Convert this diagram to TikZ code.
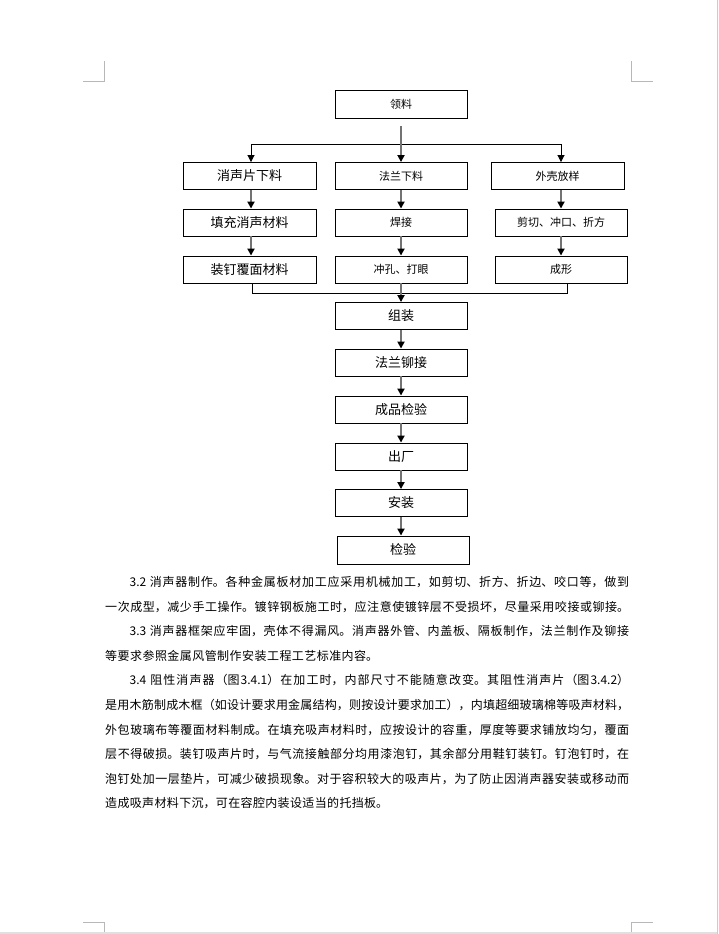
\documentclass[tikz,border=0pt]{standalone}
\usepackage{fontspec}
\setmainfont{Noto Sans CJK SC}
\usetikzlibrary{arrows.meta}
\XeTeXlinebreaklocale "zh"
\XeTeXlinebreakskip=0pt plus 1pt
\newcommand{\jline}[1]{\parbox[b]{524pt}{\parindent=0pt\parfillskip=0pt\relax #1}}
\newcommand{\sline}[2]{\parbox[b]{#1}{\parindent=0pt\parfillskip=0pt\relax #2}}
\newcommand{\ind}{\hspace*{24.4pt}}
\tikzset{
  box/.style={draw=black, line width=0.9pt, minimum width=132pt, minimum height=27pt, inner sep=0pt, fill=white},
  big/.style={font=\fontsize{13pt}{15pt}\selectfont},
  small/.style={font=\fontsize{11pt}{13pt}\selectfont},
  garr/.style={draw=black!55, line width=2pt, -{Triangle[length=7pt,width=7pt,color=black]}},
  thinln/.style={draw=black, line width=0.9pt},
  tarr/.style={thinln, -{Triangle[length=7pt,width=7pt]}},
  cropmk/.style={draw=black!28, line width=0.8pt},
  para/.style={anchor=base west, inner sep=0pt, font=\fontsize{12pt}{14pt}\selectfont},
}
\begin{document}
\begin{tikzpicture}[x=1pt,y=-1pt]
\useasboundingbox (0,0) rectangle (718,934);
\fill[white] (0,0) rectangle (718,934);
% page edge
\fill[black!12] (0,932) rectangle (718,934);
\draw[black!20, line width=1pt] (717.5,0) -- (717.5,934);
% crop marks
\draw[cropmk] (83,81) -- (104,81) -- (104,61);
\draw[cropmk] (631,61) -- (631,81) -- (653,81);
\draw[cropmk] (83,922) -- (104,922) -- (104,932);
\draw[cropmk] (631,932) -- (631,922) -- (653,922);

% boxes
\node[box, small, minimum height=28pt] (ling) at (401,104) {领料};
\node[box, big, minimum width=133pt] (a1) at (249.5,176) {消声片下料};
\node[box, small] (b1) at (401,176) {法兰下料};
\node[box, small, minimum width=133pt] (c1) at (557.5,176) {外壳放样};
\node[box, big, minimum width=133pt] (a2) at (249.5,222.5) {填充消声材料};
\node[box, small] (b2) at (401,222.5) {焊接};
\node[box, small] (c2) at (561,222.5) {剪切、冲口、折方};
\node[box, big, minimum width=133pt] (a3) at (249.5,269.5) {装钉覆面材料};
\node[box, small] (b3) at (401,269.5) {冲孔、打眼};
\node[box, small] (c3) at (561,269.5) {成形};
\node[box, big] (d1) at (401,316) {组装};
\node[box, big] (d2) at (401,362.5) {法兰铆接};
\node[box, big] (d3) at (401,409.5) {成品检验};
\node[box, big] (d4) at (401,456.5) {出厂};
\node[box, big] (d5) at (401,503) {安装};
\node[box, big, minimum height=28pt] (d6) at (403,550) {检验};

% split
\coordinate (hl) at (251,144);
\coordinate (hr) at (561,144);
\draw[thinln] (hl) -- (hr);
\draw[tarr] (hl) -- (hl |- a1.north);
\draw[tarr] (hr) -- (hr |- c1.north);
\draw[garr] ([yshift=-8pt]ling.south) -- (b1.north);

% columns
\draw[garr] (hl |- a1.south) -- (hl |- a2.north);
\draw[garr] (hl |- a2.south) -- (hl |- a3.north);
\draw[garr] (b1.south) -- (b2.north);
\draw[garr] (b2.south) -- (b3.north);
\draw[garr] (c2.north |- c1.south) -- (c2.north);
\draw[garr] (c2.south) -- (c3.north);

% merge
\coordinate (ml) at (252,293);
\coordinate (mr) at (567,293);
\draw[thinln] (ml |- a3.south) -- (ml) -- (mr) -- (mr |- c3.south);
\draw[garr] (b3.south) -- (d1.north);

% chain
\draw[garr] (d1.south) -- (d2.north);
\draw[garr] (d2.south) -- (d3.north);
\draw[garr] (d3.south) -- (d4.north);
\draw[garr] (d4.south) -- (d5.north);
\draw[garr] (d5.south) -- (d5.south |- d6.north);

% paragraphs
\node[para] (p1) at (105,586.5) {\jline{\ind 3.2 消声器制作。各种金属板材加工应采用机械加工，如剪切、折方、折边、咬口等，做到}};
\node[para] (p2) at (105,611.1) {\jline{一次成型，减少手工操作。镀锌钢板施工时，应注意使镀锌层不受损坏，尽量采用咬接或铆接。}};
\node[para] (p3) at (105,635.7) {\jline{\ind 3.3 消声器框架应牢固，壳体不得漏风。消声器外管、内盖板、隔板制作，法兰制作及铆接}};
\node[para] (p4) at (105,660.3) {\sline{273pt}{等要求参照金属风管制作安装工程工艺标准内容。}};
\node[para] (p5) at (105,684.9) {\jline{\ind 3.4 阻性消声器（图3.4.1）在加工时，内部尺寸不能随意改变。其阻性消声片（图3.4.2）}};
\node[para] (p6) at (105,709.5) {\jline{是用木筋制成木框（如设计要求用金属结构，则按设计要求加工），内填超细玻璃棉等吸声材料，}};
\node[para] (p7) at (105,734.1) {\jline{外包玻璃布等覆面材料制成。在填充吸声材料时，应按设计的容重，厚度等要求铺放均匀，覆面}};
\node[para] (p8) at (105,758.7) {\jline{层不得破损。装钉吸声片时，与气流接触部分均用漆泡钉，其余部分用鞋钉装钉。钉泡钉时，在}};
\node[para] (p9) at (105,783.3) {\jline{泡钉处加一层垫片，可减少破损现象。对于容积较大的吸声片，为了防止因消声器安装或移动而}};
\node[para] (p10) at (105,807.9) {\sline{283pt}{造成吸声材料下沉，可在容腔内装设适当的托挡板。}};
\end{tikzpicture}
\end{document}
